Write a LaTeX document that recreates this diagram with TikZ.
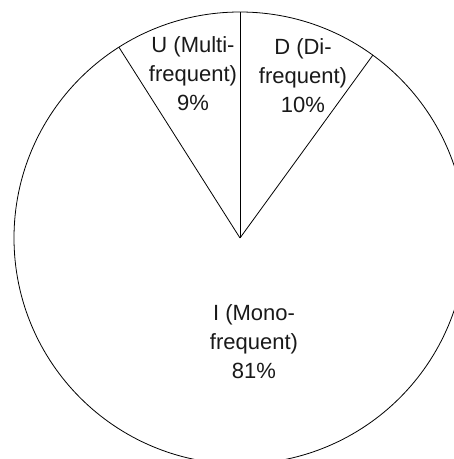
\documentclass[tikz,border=0pt]{standalone}
\usepackage{fontspec}
\setmainfont{Liberation Sans}
\usetikzlibrary{calc}

\begin{document}
\begin{tikzpicture}
        [x=1pt,y=1pt,line width=0.8pt]
            \tikzstyle{every node}=[align=center, inner sep=0pt,
        font=\fontsize{22}{29}\selectfont, text=black!90]
        \useasboundingbox (0,0) rectangle (454,459);
        \clip (0,0) rectangle (454,459);
        %-----rim
         \coordinate (O) at (240,221);
         \coordinate (UD) at ($(O)+(90:226)$);
         \coordinate (UI) at ($(O)+(122.4:226)$);
         \coordinate (DI) at ($(O)+(54:226)$);
         \draw (O) circle (226pt);
         \foreach \to in {UD,UI,DI}
         \draw (O) -- (\to);
        %-----labels
         \node (U) at (193,385) {U (Multi-\\frequent)\\9\%};
         \node (D) at (303,383) {D (Di-\\frequent)\\10\%};
         \node (I) at (254,117) {I (Mono-\\frequent)\\81\%};
        \end{tikzpicture}
\end{document}
